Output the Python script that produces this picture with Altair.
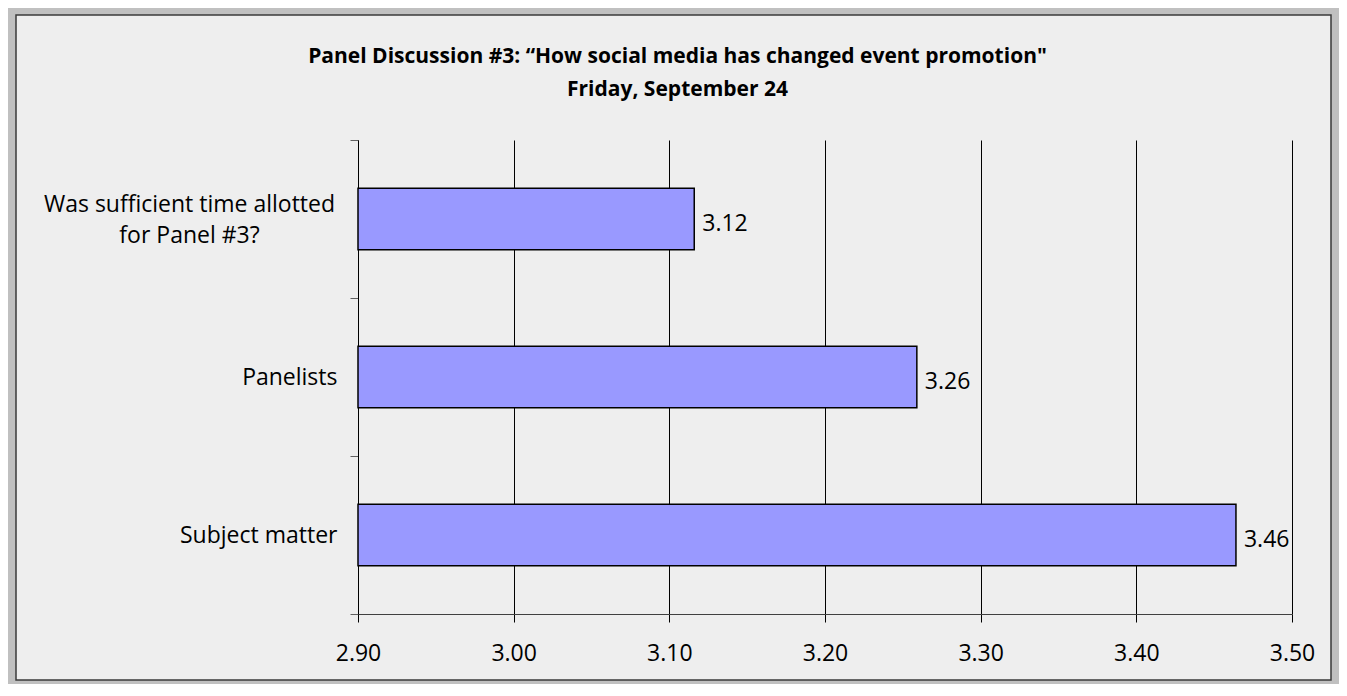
import altair as alt
import pandas as pd

categories = ["Was sufficient time allotted\nfor Panel #3?", "Panelists", "Subject matter"]
scores = [3.116, 3.259, 3.464]
x_ticks = [2.90, 3.00, 3.10, 3.20, 3.30, 3.40, 3.50]
title_lines = ["Panel Discussion #3: \u201cHow social media has changed event promotion\"",
               "Friday, September 24"]

df = pd.DataFrame({"question": categories, "score": scores})

FONT = "Open Sans"
FS = 23

multi_test = "indexof(datum.label, '\\n') >= 0"

y_scale = alt.Scale(paddingInner=0, paddingOuter=0)
y_enc = alt.Y(
    "question:N", sort=categories, title=None, scale=y_scale,
    axis=alt.Axis(
        domainColor="#000000", domainWidth=1,
        tickBand="extent", tickSize=8, tickColor="#606060", tickWidth=1,
        labelFont=FONT, labelFontSize=FS, labelColor="#000000",
        labelExpr="split(datum.label, '\\n')", labelLineHeight=31,
        labelAlign={"condition": {"test": multi_test, "value": "center"}, "value": "right"},
        labelPadding={"condition": {"test": multi_test, "value": 161}, "value": 13},
        labelOffset={"condition": {"test": multi_test, "value": -15}, "value": 0},
        labelLimit=400, grid=False,
    ),
)

x_scale = alt.Scale(domain=[2.9, 3.5], zero=False, nice=False)
x_axis = alt.Axis(
    values=x_ticks, format=".2f", title=None,
    grid=True, gridColor="#000000", gridWidth=1,
    domainColor="#404040", domainWidth=1,
    tickSize=8, tickColor="#000000", tickWidth=1, labelFlush=False,
    labelFont=FONT, labelFontSize=FS, labelColor="#000000", labelPadding=20,
)

base = alt.Chart(df)

bars = base.mark_bar(color="#9999ff", stroke="#000000", strokeWidth=1.5,
                     height=alt.RelativeBandSize(0.39)).encode(
    x=alt.X("score:Q", scale=x_scale, axis=x_axis),
    x2=alt.datum(2.9),
    y=y_enc,
)

values = base.mark_text(align="left", baseline="middle", dx=8, dy=5,
                        font=FONT, fontSize=FS, color="#000000").encode(
    x=alt.X("score:Q", scale=x_scale),
    y=alt.Y("question:N", sort=categories, scale=y_scale),
    text=alt.Text("score:Q", format=".2f"),
)

frame_df = pd.DataFrame({"frame": [0]})
outer = alt.Chart(frame_df).mark_rect(fill="transparent", stroke="#c0c0c0", strokeWidth=16).encode(
    x=alt.value(-350), x2=alt.value(981), y=alt.value(-133), y2=alt.value(548)
)
border = alt.Chart(frame_df).mark_rect(fill="transparent", stroke="#3a3a3a", strokeWidth=1.5).encode(
    x=alt.value(-342), x2=alt.value(973), y=alt.value(-125), y2=alt.value(540)
)

chart = alt.layer(bars, values, outer, border).properties(
    width=934, height=474,
    background="#eeeeee",
    autosize=alt.AutoSizeParams(type="none"),
    padding={"left": 350, "top": 132, "right": 47, "bottom": 70},
    title=alt.TitleParams(
        text=title_lines, font=FONT, fontSize=21, fontWeight="bold", color="#000000",
        anchor="middle", frame="bounds", lineHeight=33, offset=-101, dx=4,
    ),
).configure_view(stroke=None)

chart.save("out.html", embed_options={"renderer": "svg", "actions": False})
